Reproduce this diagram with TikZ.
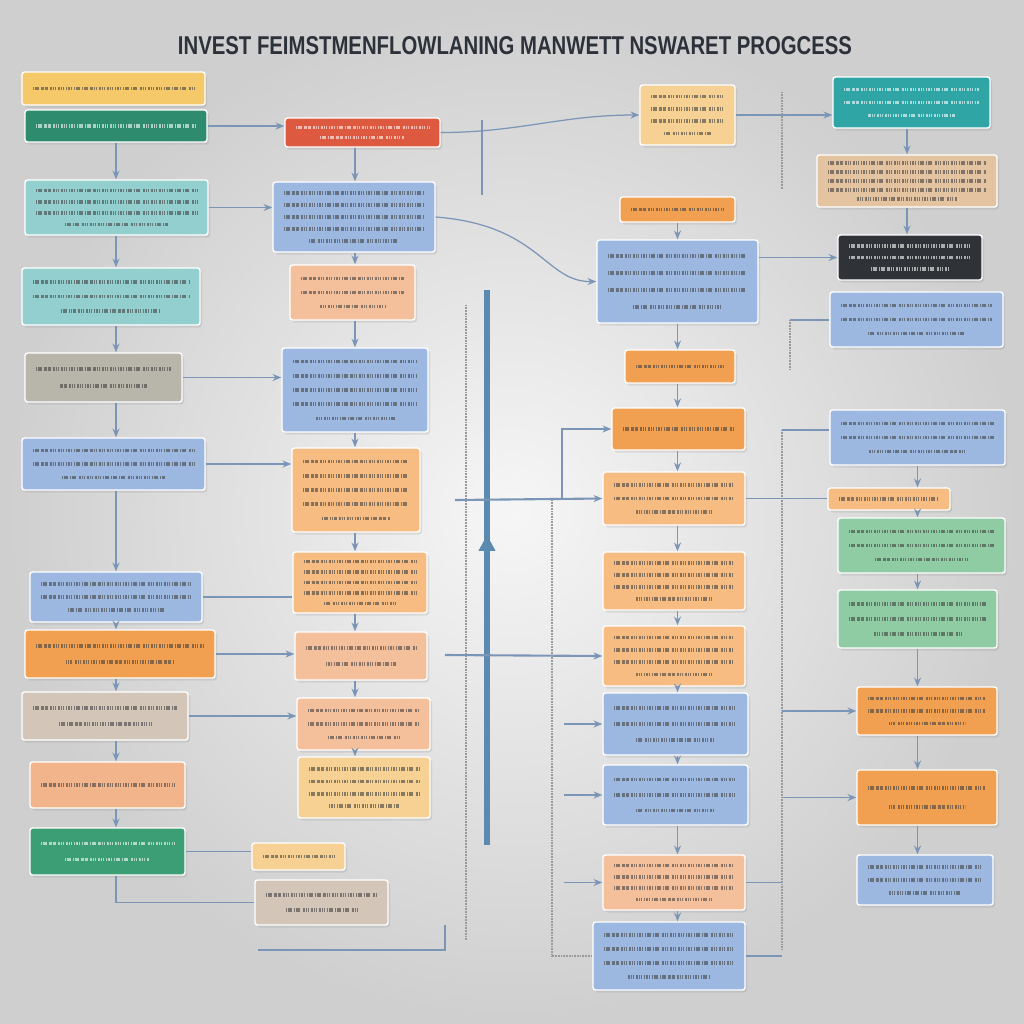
\documentclass[tikz,border=0pt]{standalone}
\usepackage{fontspec}
\setmainfont{Liberation Sans}
\usepackage{graphicx}
\usepackage{tikz}
\usetikzlibrary{arrows.meta,calc,shadows}
\definecolor{yelB}{HTML}{F5C96A}
\definecolor{grnD}{HTML}{2E8B6E}
\definecolor{tealL}{HTML}{93CFCF}
\definecolor{grayB}{HTML}{B8B5AA}
\definecolor{bluB}{HTML}{9DB8E0}
\definecolor{orgB}{HTML}{F0A050}
\definecolor{beig}{HTML}{D3C6B8}
\definecolor{salm}{HTML}{F2B48A}
\definecolor{grnM}{HTML}{3C9E74}
\definecolor{redB}{HTML}{DD5A40}
\definecolor{peach}{HTML}{F4C09C}
\definecolor{orgL}{HTML}{F6BC82}
\definecolor{yelL}{HTML}{F6D193}
\definecolor{tealD}{HTML}{2FA5A5}
\definecolor{tanB}{HTML}{E3C3A0}
\definecolor{darkB}{HTML}{2F3338}
\definecolor{grnL}{HTML}{8FCBA3}
\definecolor{linkc}{HTML}{7A95B5}
\definecolor{spinec}{HTML}{5A8AB0}
\definecolor{ttlc}{HTML}{2C313A}
\tikzstyle{card}=[rectangle, draw=white, line width=0.8pt, rounded corners=1.5pt, inner sep=0pt, drop shadow={opacity=0.18,shadow xshift=0.4mm,shadow yshift=-0.5mm}]
\tikzstyle{txt}=[line width=2pt, dash pattern=on 0.6pt off 0.3pt on 0.5pt off 0.35pt on 0.8pt off 0.3pt on 0.6pt off 1.2pt, opacity=0.6]
\tikzstyle{link}=[draw=linkc, line width=0.7pt]
\tikzstyle{arr}=[link, -{Stealth[length=5pt,width=4pt]}]
\tikzstyle{spine}=[draw=spinec, line width=3pt]
\tikzstyle{dots}=[draw=gray!80, line width=1.6pt, dash pattern=on 0.4pt off 0.5pt]
\newcommand{\card}[8][black!75]{%
  \node[card, fill=#7, minimum width={(#5-#3)*0.2mm}, minimum height={(#6-#4)*0.2mm}] (#2) at ({(#3+#5)/2},{(#4+#6)/2}) {};
  \foreach \i in {1,...,#8}{
    \pgfmathsetmacro\cut{(\i==#8 && #8>1) ? 0.18 : 0}
    \coordinate (L) at ($(#2.north west)!{\i/(#8+1)}!(#2.south west) + (12,0)$);
    \coordinate (R) at ($(#2.north east)!{\i/(#8+1)}!(#2.south east) + (-12,0)$);
    \draw[txt, #1] ($(L)!\cut!(R)$) -- ($(R)!\cut!(L)$);
  }
}

\begin{document}
\begin{tikzpicture}[x=0.2mm, y=-0.2mm]
	\useasboundingbox (0,0) rectangle (1024,1024);
	\shade[inner color=white!93!gray, outer color=gray!38] (0,0) rectangle (1024,1024);
	%% the title
	\node[inner sep=0pt, text=ttlc, font=\bfseries] (ttl) at (515,46) {\resizebox{134.8mm}{3.6mm}{INVEST FEIMSTMENFLOWLANING MANWETT NSWARET PROGCESS}};
	%% left column
	\card{a1}{22}{72}{205}{105}{yelB}{1}
	\card[white!85]{a2}{25}{110}{207}{142}{grnD}{1}
	\card{a3}{25}{180}{208}{235}{tealL}{4}
	\card{a4}{22}{268}{200}{325}{tealL}{3}
	\card{a5}{25}{353}{182}{402}{grayB}{2}
	\card{a6}{22}{438}{205}{490}{bluB}{3}
	\card{a7}{30}{572}{202}{622}{bluB}{3}
	\card{a8}{25}{630}{215}{678}{orgB}{2}
	\card{a9}{22}{692}{188}{740}{beig}{2}
	\card{a10}{30}{762}{185}{808}{salm}{1}
	\card[white!85]{a11}{30}{828}{185}{875}{grnM}{2}
	%% second column
	\card[white!85]{b1}{285}{118}{440}{147}{redB}{2}
	\card{b2}{273}{182}{435}{252}{bluB}{5}
	\card{b3}{290}{265}{415}{320}{peach}{3}
	\card{b4}{282}{348}{428}{432}{bluB}{5}
	\card{b5}{292}{448}{420}{532}{orgL}{5}
	\card{b6}{293}{552}{427}{613}{orgL}{5}
	\card{b7}{295}{632}{427}{680}{peach}{2}
	\card{b8}{297}{698}{430}{750}{peach}{3}
	\card{b9}{298}{757}{430}{818}{yelL}{4}
	\card{b10}{252}{843}{345}{870}{yelL}{1}
	\card{b11}{255}{880}{388}{925}{beig}{2}
	%% third column
	\card{c1}{640}{85}{735}{145}{yelL}{4}
	\card{c2}{620}{197}{735}{222}{orgB}{1}
	\card{c3}{597}{240}{758}{323}{bluB}{4}
	\card{c4}{625}{350}{735}{383}{orgB}{1}
	\card{c5}{612}{408}{745}{450}{orgB}{1}
	\card{c6}{603}{472}{745}{525}{orgL}{3}
	\card{c7}{603}{552}{745}{610}{orgL}{4}
	\card{c8}{603}{626}{745}{686}{orgL}{4}
	\card{c9}{603}{693}{748}{755}{bluB}{3}
	\card{c10}{603}{765}{748}{825}{bluB}{3}
	\card{c11}{603}{855}{745}{910}{peach}{4}
	\card{c12}{593}{922}{745}{990}{bluB}{4}
	%% right column
	\card[white!85]{d1}{833}{77}{990}{128}{tealD}{3}
	\card{d2}{817}{155}{997}{207}{tanB}{5}
	\card[white!85]{d3}{838}{235}{982}{280}{darkB}{3}
	\card{d4}{830}{292}{1003}{347}{bluB}{3}
	\card{d5}{830}{410}{1005}{465}{bluB}{3}
	\card{d6}{828}{488}{950}{510}{orgL}{1}
	\card{d7}{838}{518}{1005}{573}{grnL}{3}
	\card{d8}{838}{590}{997}{648}{grnL}{3}
	\card{d9}{857}{687}{997}{735}{orgB}{3}
	\card{d10}{857}{770}{997}{825}{orgB}{2}
	\card{d11}{857}{855}{993}{905}{bluB}{3}
	%% free ends
	\coordinate (s1) at (487,290);
	\coordinate (s2) at (487,845);
	\coordinate (t1) at (466,305);
	\coordinate (t2) at (466,940);
	\coordinate (h1) at (455,500);
	\coordinate (h2) at (445,655);
	\coordinate (h3) at (562,500);
	\coordinate (v1) at (552,500);
	\coordinate (k1) at (482,120);
	\coordinate (k2) at (482,195);
	\coordinate (k3) at (782,92);
	\coordinate (k4) at (782,190);
	\coordinate (w1) at (782,430);
	\coordinate (w2) at (782,950);
	\coordinate (w3) at (790,320);
	\coordinate (w4) at (790,370);
	\coordinate (q1) at (258,950);
	\coordinate (q2) at (445,925);
	%% for the edges
	\draw[spine] (s1) -- (s2);
	\draw[spine, -{Triangle[length=9pt,width=9pt]}] (487,565) -- (487,535);
	\draw[dots] (t1) -- (t2);
	\foreach \u/\v in {a2/a3,a3/a4,a4/a5,a5/a6,a6/a7,a7/a8,a8/a9,a9/a10,a10/a11}
		\draw[arr] (\u.south -| a2) -- (\v.north -| a2);
	\draw[link] (a11.south -| a2) |- (b11.west);
	\foreach \u/\v in {b1/b2,b2/b3,b3/b4,b4/b5,b5/b6,b6/b7,b7/b8,b8/b9}
		\draw[arr] (\u.south -| b4) -- (\v.north -| b4);
	\foreach \u/\v in {c2/c3,c3/c4,c4/c5,c5/c6,c6/c7,c7/c8,c8/c9,c9/c10,c10/c11,c11/c12}
		\draw[arr] (\u.south -| c3) -- (\v.north -| c3);
	\foreach \u/\v in {d1/d2,d2/d3}
		\draw[arr] (\u.south -| d2) -- (\v.north -| d2);
	\foreach \u/\v in {d5/d6,d6/d7,d7/d8,d8/d9,d9/d10,d10/d11}
		\draw[arr] (\u.south -| d5) -- (\v.north -| d5);
	\draw[arr] (a2.east) -- (b1.west |- a2.east);
	\draw[arr] (a3.east) -- (b2.west |- a3.east);
	\draw[arr] (a5.east) -- (b4.west |- a5.east);
	\draw[arr] (a6.east) -- (b5.west |- a6.east);
	\draw[link] (a7.east) -- (b6.west |- a7.east);
	\draw[arr] (a8.east) -- (b7.west |- a8.east);
	\draw[arr] (a9.east) -- (b8.west |- a9.east);
	\draw[link] (a11.east) -- (b10.west |- a11.east);
	\draw[arr] (b1.east) to[out=0, in=180] (c1.west);
	\draw[link] (k1) -- (k2);
	\draw[arr] (b2.east) .. controls (540,225) and (545,282) .. (c3.west);
	\draw[arr, line width=1.2pt] (h1) -- (c6.west);
	\draw[arr, line width=1.2pt] (h2) -- (c8.west);
	\draw[arr] (h3) |- (c5.west);
	\draw[dots] (v1) |- (c12.west);
	\draw[arr] ($(c9.west)+(-38,0)$) -- (c9.west);
	\draw[arr] ($(c10.west)+(-38,0)$) -- (c10.west);
	\draw[arr] ($(c11.west)+(-38,0)$) -- (c11.west);
	\draw[arr] (c1.east) -- (d1.west |- c1.east);
	\draw[dots] (k3) -- (k4);
	\draw[arr] (c3.east |- d3.west) -- (d3.west);
	\draw[link] (w3) -- (d4.west |- w3);
	\draw[dots] (w3) -- (w4);
	\draw[dots] (w1) -- (w2);
	\draw[link] (w1) -- (d5.west |- w1);
	\draw[link] (c6.east) -- (d6.west |- c6.east);
	\draw[arr] (d9.west -| w1) -- (d9.west);
	\draw[arr] (d10.west -| w1) -- (d10.west);
	\draw[link] (c11.east) -- (c11.east -| w1);
	\draw[link] (c12.east) -- (c12.east -| w1);
	\draw[link] (q1) -| (q2);
\end{tikzpicture}
\end{document}
